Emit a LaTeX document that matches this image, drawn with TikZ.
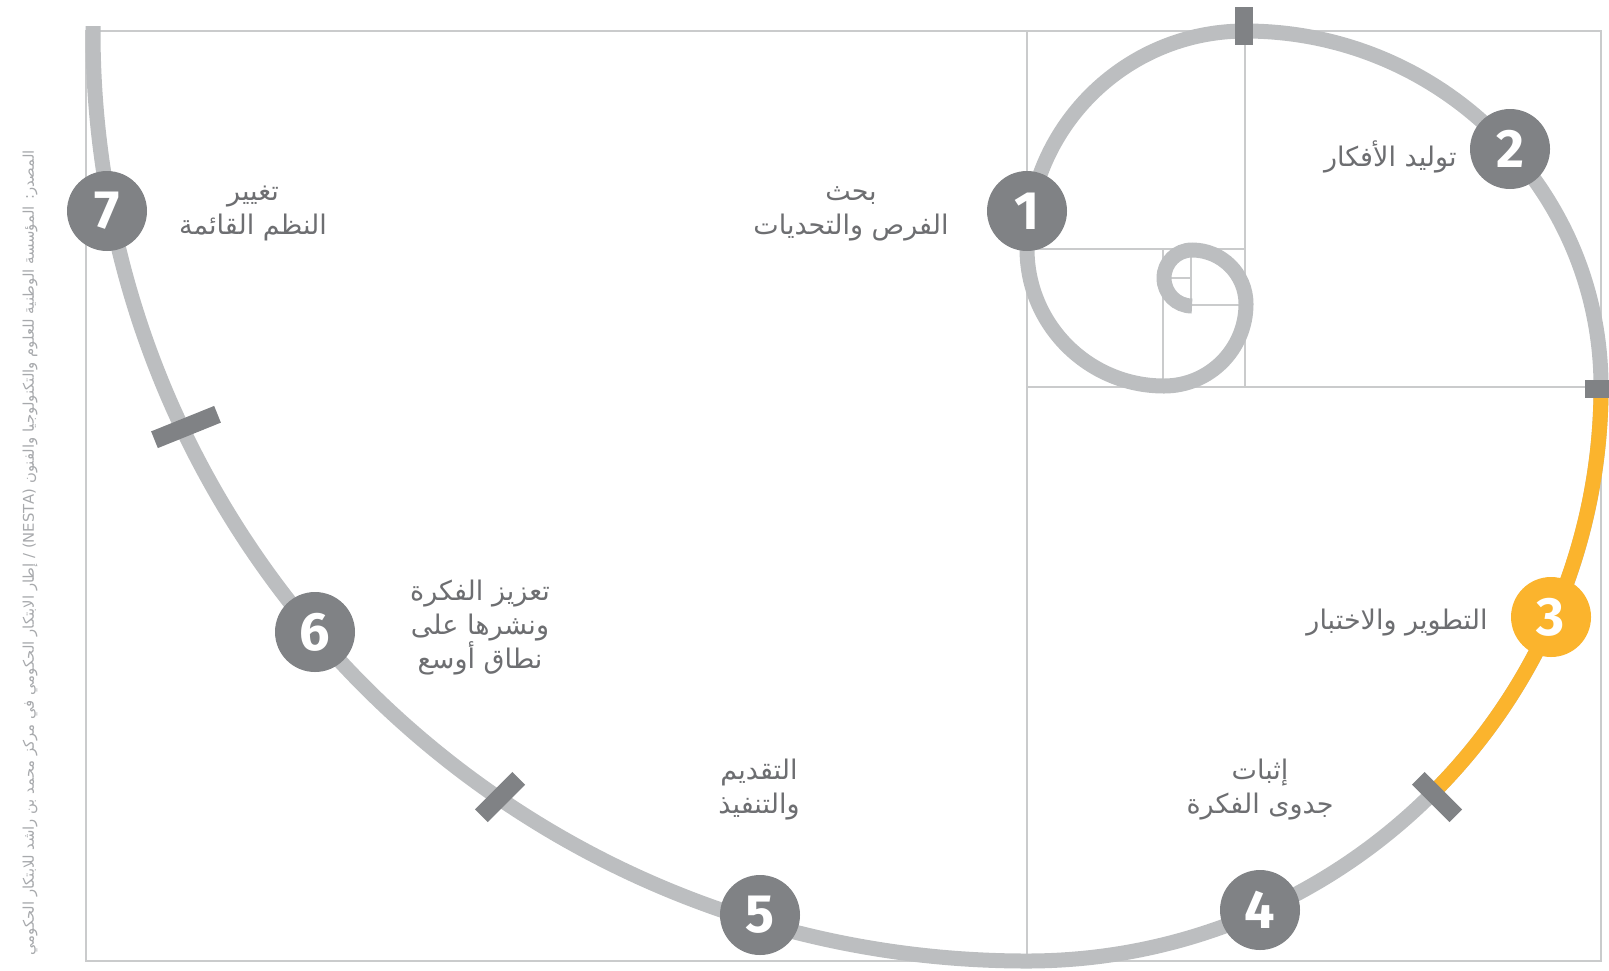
\documentclass[tikz,border=0pt]{standalone}
\usepackage{fontspec}
\setmainfont{DejaVu Sans}
\newfontfamily\arabicfont[Script=Arabic]{DejaVu Sans}
\newfontfamily\numfont{Fira Sans}
\TeXXeTstate=1
\definecolor{gridgray}{HTML}{CACBCC}
\definecolor{spiralgray}{HTML}{BCBEC0}
\definecolor{darkgray}{HTML}{808285}
\definecolor{accent}{HTML}{FBB42D}
\definecolor{labgray}{HTML}{6D6E71}
\definecolor{srcgray}{HTML}{A7A9AC}
\tikzset{
  gridline/.style={draw=gridgray, line width=0.9pt},
  spiralline/.style={draw=spiralgray, line width=7.5pt, line cap=butt},
  accentline/.style={draw=accent, line width=7.5pt, line cap=butt},
  tickbox/.style={fill=darkgray, draw=none, inner sep=0pt, minimum height=9pt},
  numcircle/.style={circle, fill=darkgray, draw=none, minimum size=40pt, inner sep=0pt, text=white, font=\numfont\bfseries\fontsize{27}{27}\selectfont},
  lab/.style={text=labgray, font=\arabicfont\fontsize{13.5}{17}\selectfont, align=center, inner sep=0pt},
  src/.style={text=srcgray, font=\arabicfont\fontsize{7.4}{9}\selectfont, inner sep=0pt}
}
\begin{document}
\begin{tikzpicture}[x=0.5pt,y=-0.5pt]
\useasboundingbox (0,0) rectangle (1609,970);
\clip (0,0) rectangle (1609,970);
% golden rectangle grid
\draw[gridline] (86,31) rectangle (1601,961);
\draw[gridline] (1027,31) -- (1027,961);
\draw[gridline] (1027,387) -- (1601,387);
\draw[gridline] (1245,31) -- (1245,387);
\draw[gridline] (1027,249) -- (1245,249);
\draw[gridline] (1163,249) -- (1163,387);
\draw[gridline] (1191,305) -- (1245,305);
\draw[gridline] (1191,249) -- (1191,305);
\draw[gridline] (1163,278) -- (1191,278);
% spiral
\coordinate (sstart) at (93,26);
\draw[spiralline] (sstart) -- (93,31)
  arc[start angle=180, end angle=90, x radius=934, y radius=930]
  arc[start angle=90, end angle=0, radius=574]
  arc[start angle=0, end angle=-90, radius=356]
  arc[start angle=-90, end angle=-180, radius=218]
  arc[start angle=180, end angle=90, radius=137]
  arc[start angle=90, end angle=0, radius=82]
  arc[start angle=0, end angle=-90, radius=54]
  arc[start angle=-90, end angle=-270, radius=28];
\coordinate (ostart) at (1432.9,792.9);
\draw[accentline] (ostart) arc[start angle=45, end angle=0, radius=574];
% ticks
\node[tickbox, minimum width=34pt, rotate=22] (tk1) at (186,427) {};
\node[tickbox, minimum width=26.5pt, rotate=45] (tk2) at (500,797) {};
\node[tickbox, minimum width=26.5pt, rotate=-45] (tk3) at (1437,797) {};
\node[tickbox, minimum width=19pt] (tk4) at (1604,389) {};
\node[tickbox, minimum width=19pt, rotate=90] (tk5) at (1244,26) {};
% numbered circles
\node[numcircle] (c1) at (1027,211) {1};
\node[numcircle] (c2) at (1510,149) {2};
\node[numcircle, fill=accent] (c3) at (1551,617) {3};
\node[numcircle] (c4) at (1260,910) {4};
\node[numcircle] (c5) at (760,915) {5};
\node[numcircle] (c6) at (315,632) {6};
\node[numcircle] (c7) at (107,211) {7};
% labels
\node[lab] (l1) at (851,214) {\beginR بحث\endR\\\beginR الفرص والتحديات\endR};
\node[lab, anchor=east] (l2) at (1457,157) {\beginR توليد الأفكار\endR};
\node[lab, anchor=east] (l3) at (1488,623) {\beginR التطوير والاختبار\endR};
\node[lab] (l4) at (1260,790) {\beginR إثبات\endR\\\beginR جدوى الفكرة\endR};
\node[lab] (l5) at (759,790) {\beginR التقديم\endR\\\beginR والتنفيذ\endR};
\node[lab] (l6) at (480,628) {\beginR تعزيز الفكرة\endR\\\beginR ونشرها على\endR\\\beginR نطاق أوسع\endR};
\node[lab] (l7) at (253,213) {\beginR تغيير\endR\\\beginR النظم القائمة\endR};
% source
\node[src, rotate=90] (source) at (30,553) {\beginR المصدر: المؤسسة الوطنية للعلوم والتكنولوجيا والفنون \beginL(NESTA)\endL{} / إطار الابتكار الحكومي في مركز محمد بن راشد للابتكار الحكومي\endR};
\end{tikzpicture}
\end{document}
